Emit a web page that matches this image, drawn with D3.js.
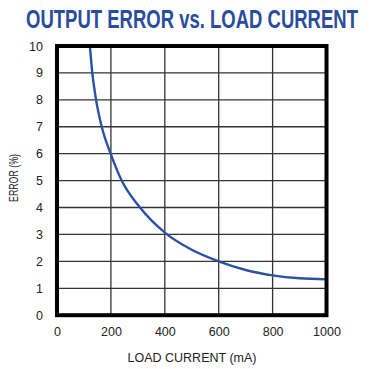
<!DOCTYPE html>
<html><head><meta charset="utf-8">
<script src="https://cdn.jsdelivr.net/npm/d3@7"></script>
<style>
html,body{margin:0;padding:0;background:#fff;}
svg{display:block;}
text{font-family:"Liberation Sans Narrow","Arial Narrow","Liberation Sans",sans-serif;}
</style></head>
<body><svg id="c" width="377" height="369"></svg>
<script>
const title = "OUTPUT ERROR vs. LOAD CURRENT";
const xTitle = "LOAD CURRENT (mA)";
const yTitle = "ERROR (%)";
const xTicks = [0, 200, 400, 600, 800, 1000];
const yTicks = [0, 1, 2, 3, 4, 5, 6, 7, 8, 9, 10];
const loadCurrent = [122, 131, 145, 166, 199, 240, 308, 405, 500, 600, 700, 800, 900, 1000];
const errorPct =    [10, 9, 8, 7, 6, 5, 4, 3.03, 2.43, 2.0, 1.68, 1.48, 1.37, 1.33];

const svg = d3.select("#c");
const L = 57, R = 326.5, T = 46, B = 315.2;
const x = d3.scaleLinear().domain([0, 1000]).range([L, R]);
const y = d3.scaleLinear().domain([0, 10]).range([B, T]);

// title, horizontally condensed via scale transform
const tg = svg.append("g");
const tt = tg.append("text").attr("x", 0).attr("y", 0).attr("text-anchor", "middle")
  .attr("font-size", 25).attr("font-weight", "bold").attr("fill", "#2a4c9c").text(title);
const tw = tt.node().getComputedTextLength();
tg.attr("transform", `translate(192,28) scale(${332 / tw},1)`);

// grid
svg.append("g").selectAll("line").data(xTicks.slice(1, -1)).join("line")
  .attr("x1", d => x(d)).attr("x2", d => x(d)).attr("y1", T).attr("y2", B)
  .attr("stroke", "#333").attr("stroke-width", 1.3);
svg.append("g").selectAll("line").data(yTicks.slice(1, -1)).join("line")
  .attr("y1", d => y(d)).attr("y2", d => y(d)).attr("x1", L).attr("x2", R)
  .attr("stroke", "#333").attr("stroke-width", 1.3);

// curve
const line = d3.line().x((d, i) => x(loadCurrent[i])).y(d => y(d)).curve(d3.curveMonotoneX);
svg.append("path").datum(errorPct).attr("d", line).attr("fill", "none")
  .attr("stroke", "#2a52a3").attr("stroke-width", 2.4);

// frame
svg.append("rect").attr("x", L).attr("y", T).attr("width", R - L).attr("height", B - T)
  .attr("fill", "none").attr("stroke", "#000").attr("stroke-width", 4);

// axes labels
const yAxis = d3.axisLeft(y).tickValues(yTicks).tickFormat(d3.format("d")).tickSize(0).tickPadding(14);
const gy = svg.append("g").attr("transform", `translate(${L},0)`).call(yAxis);
gy.select(".domain").remove();
gy.selectAll("text").attr("font-size", 12.5).attr("fill", "#222")
  .attr("font-family", "'Liberation Sans Narrow','Arial Narrow',sans-serif");

const xAxis = d3.axisBottom(x).tickValues(xTicks).tickFormat(d3.format("d")).tickSize(0).tickPadding(12);
const gx = svg.append("g").attr("transform", `translate(0,${B})`).call(xAxis);
gx.select(".domain").remove();
gx.selectAll("text").attr("font-size", 12.5).attr("fill", "#222")
  .attr("font-family", "'Liberation Sans Narrow','Arial Narrow',sans-serif");

svg.append("text").attr("x", 192).attr("y", 361.5).attr("text-anchor", "middle")
  .attr("font-size", 12.5).attr("fill", "#222").text(xTitle);
const yg = svg.append("g");
const yt = yg.append("text").attr("text-anchor", "middle")
  .attr("font-size", 12).attr("fill", "#222").text(yTitle);
const yw = yt.node().getComputedTextLength();
yg.attr("transform", `translate(17.5,178) rotate(-90) scale(${48 / yw},1)`);
</script></body></html>
